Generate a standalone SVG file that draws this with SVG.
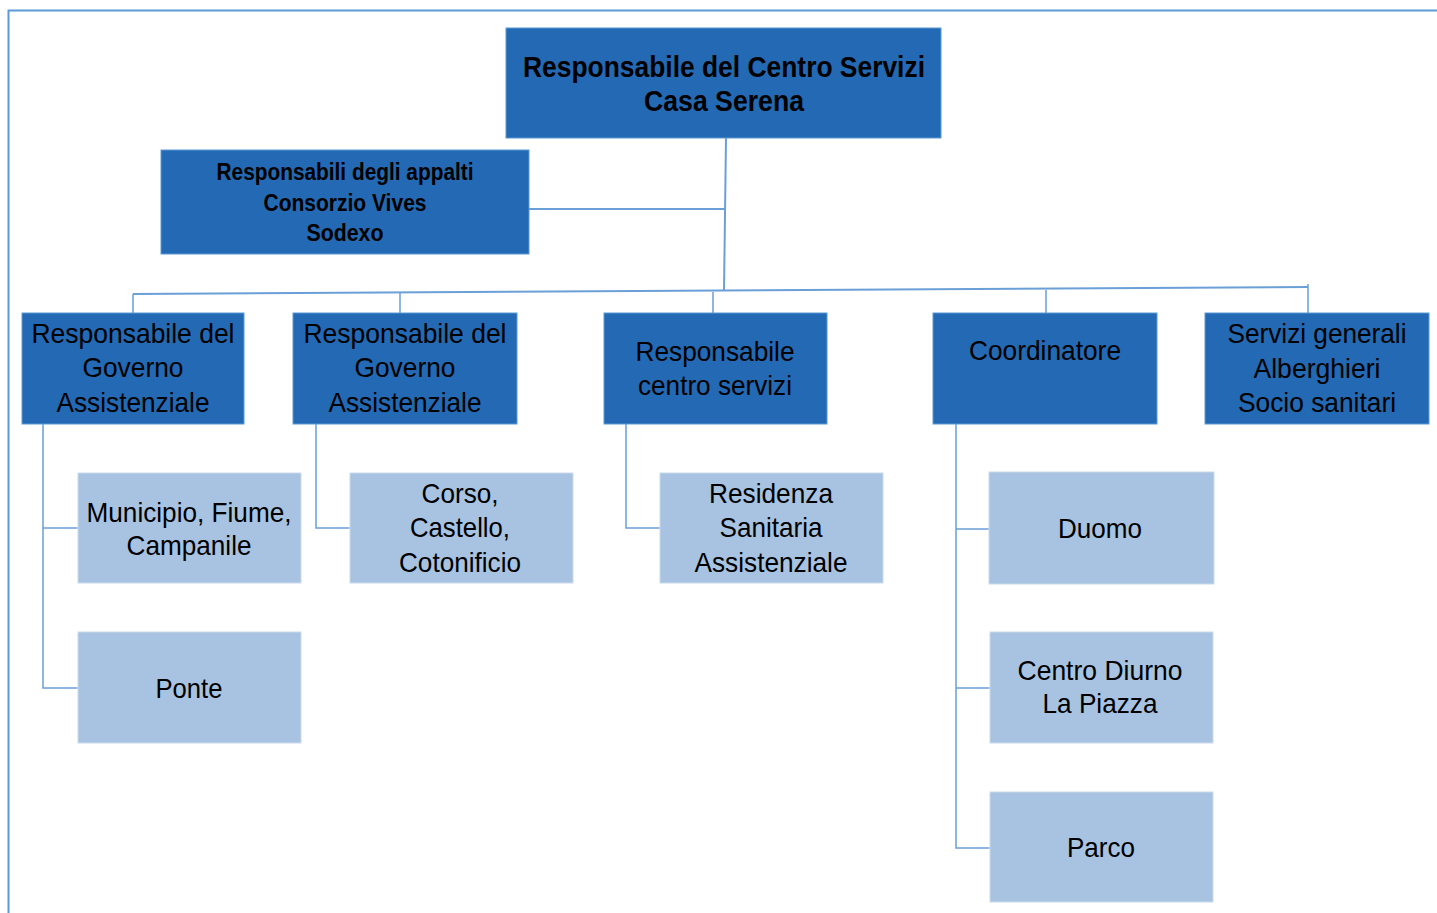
<svg xmlns="http://www.w3.org/2000/svg" width="1437" height="913" viewBox="0 0 1437 913">
<style>
.dark{fill:#2369b4;stroke:#5b9bd5;stroke-width:1}
.light{fill:#a7c3e1;stroke:#c9daee;stroke-width:1}
.t{font-family:"Liberation Sans",Arial,sans-serif;fill:#000;text-anchor:middle}
.b{font-weight:bold}
.c{fill:none;stroke:#6a9fd8;stroke-width:2}
.c1{fill:none;stroke:#6a9fd8;stroke-width:1.5}
</style>
<rect x="8.5" y="10.5" width="1440" height="910" fill="#fff" stroke="#5b9bd5" stroke-width="2"/>
<g id="connectors">
<path class="c" d="M726 138 L724 291"/>
<path class="c" d="M529 209 L726 209"/>
<path class="c" d="M133 294 L1308 287"/>
<path class="c1" d="M133 294 V313 M400 293 V313 M713 292 V313 M1046 290 V313 M1308 284 V313"/>
<path class="c1" d="M43 424 V688 H78 M43 528 H78"/>
<path class="c1" d="M316 424 V528 H350"/>
<path class="c1" d="M626 424 V528 H660"/>
<path class="c1" d="M956 424 V848 H990 M956 529 H989 M956 688 H990"/>
</g>
<g id="n-top">
<rect class="dark" x="506" y="28" width="435" height="110"/>
<text class="t b" font-size="29" x="724" y="77" textLength="402" lengthAdjust="spacingAndGlyphs">Responsabile del Centro Servizi</text>
<text class="t b" font-size="29" x="724" y="111" textLength="160" lengthAdjust="spacingAndGlyphs">Casa Serena</text>
</g>
<g id="n-appalti">
<rect class="dark" x="161" y="150" width="368" height="104"/>
<text class="t b" font-size="23" x="345" y="180" textLength="257" lengthAdjust="spacingAndGlyphs">Responsabili degli appalti</text>
<text class="t b" font-size="23" x="345" y="211" textLength="163" lengthAdjust="spacingAndGlyphs">Consorzio Vives</text>
<text class="t b" font-size="23" x="345" y="241" textLength="77" lengthAdjust="spacingAndGlyphs">Sodexo</text>
</g>
<g id="n-gov1">
<rect class="dark" x="22" y="313" width="222" height="111"/>
<text class="t" font-size="28" x="133" y="343" textLength="203" lengthAdjust="spacingAndGlyphs">Responsabile del</text>
<text class="t" font-size="28" x="133" y="377" textLength="101" lengthAdjust="spacingAndGlyphs">Governo</text>
<text class="t" font-size="28" x="133" y="412" textLength="153" lengthAdjust="spacingAndGlyphs">Assistenziale</text>
</g>
<g id="n-gov2">
<rect class="dark" x="293" y="313" width="224" height="111"/>
<text class="t" font-size="28" x="405" y="343" textLength="203" lengthAdjust="spacingAndGlyphs">Responsabile del</text>
<text class="t" font-size="28" x="405" y="377" textLength="101" lengthAdjust="spacingAndGlyphs">Governo</text>
<text class="t" font-size="28" x="405" y="412" textLength="153" lengthAdjust="spacingAndGlyphs">Assistenziale</text>
</g>
<g id="n-centro">
<rect class="dark" x="604" y="313" width="223" height="111"/>
<text class="t" font-size="28" x="715" y="361" textLength="159" lengthAdjust="spacingAndGlyphs">Responsabile</text>
<text class="t" font-size="28" x="715" y="395" textLength="154" lengthAdjust="spacingAndGlyphs">centro servizi</text>
</g>
<g id="n-coord">
<rect class="dark" x="933" y="313" width="224" height="111"/>
<text class="t" font-size="28" x="1045" y="360" textLength="152" lengthAdjust="spacingAndGlyphs">Coordinatore</text>
</g>
<g id="n-servizi">
<rect class="dark" x="1205" y="313" width="224" height="111"/>
<text class="t" font-size="28" x="1317" y="343" textLength="179" lengthAdjust="spacingAndGlyphs">Servizi generali</text>
<text class="t" font-size="28" x="1317" y="378" textLength="127" lengthAdjust="spacingAndGlyphs">Alberghieri</text>
<text class="t" font-size="28" x="1317" y="412" textLength="158" lengthAdjust="spacingAndGlyphs">Socio sanitari</text>
</g>
<g id="n-municipio">
<rect class="light" x="78" y="473" width="223" height="110"/>
<text class="t" font-size="28" x="189" y="522" textLength="205" lengthAdjust="spacingAndGlyphs">Municipio, Fiume,</text>
<text class="t" font-size="28" x="189" y="555" textLength="125" lengthAdjust="spacingAndGlyphs">Campanile</text>
</g>
<g id="n-ponte">
<rect class="light" x="78" y="632" width="223" height="111"/>
<text class="t" font-size="28" x="189" y="698" textLength="67" lengthAdjust="spacingAndGlyphs">Ponte</text>
</g>
<g id="n-corso">
<rect class="light" x="350" y="473" width="223" height="110"/>
<text class="t" font-size="28" x="460" y="503" textLength="77" lengthAdjust="spacingAndGlyphs">Corso,</text>
<text class="t" font-size="28" x="460" y="537" textLength="100" lengthAdjust="spacingAndGlyphs">Castello,</text>
<text class="t" font-size="28" x="460" y="572" textLength="122" lengthAdjust="spacingAndGlyphs">Cotonificio</text>
</g>
<g id="n-rsa">
<rect class="light" x="660" y="473" width="223" height="110"/>
<text class="t" font-size="28" x="771" y="503" textLength="124" lengthAdjust="spacingAndGlyphs">Residenza</text>
<text class="t" font-size="28" x="771" y="537" textLength="103" lengthAdjust="spacingAndGlyphs">Sanitaria</text>
<text class="t" font-size="28" x="771" y="572" textLength="153" lengthAdjust="spacingAndGlyphs">Assistenziale</text>
</g>
<g id="n-duomo">
<rect class="light" x="989" y="472" width="225" height="112"/>
<text class="t" font-size="28" x="1100" y="538" textLength="84" lengthAdjust="spacingAndGlyphs">Duomo</text>
</g>
<g id="n-diurno">
<rect class="light" x="990" y="632" width="223" height="111"/>
<text class="t" font-size="28" x="1100" y="680" textLength="165" lengthAdjust="spacingAndGlyphs">Centro Diurno</text>
<text class="t" font-size="28" x="1100" y="713" textLength="115" lengthAdjust="spacingAndGlyphs">La Piazza</text>
</g>
<g id="n-parco">
<rect class="light" x="990" y="792" width="223" height="110"/>
<text class="t" font-size="28" x="1101" y="857" textLength="68" lengthAdjust="spacingAndGlyphs">Parco</text>
</g>
</svg>
